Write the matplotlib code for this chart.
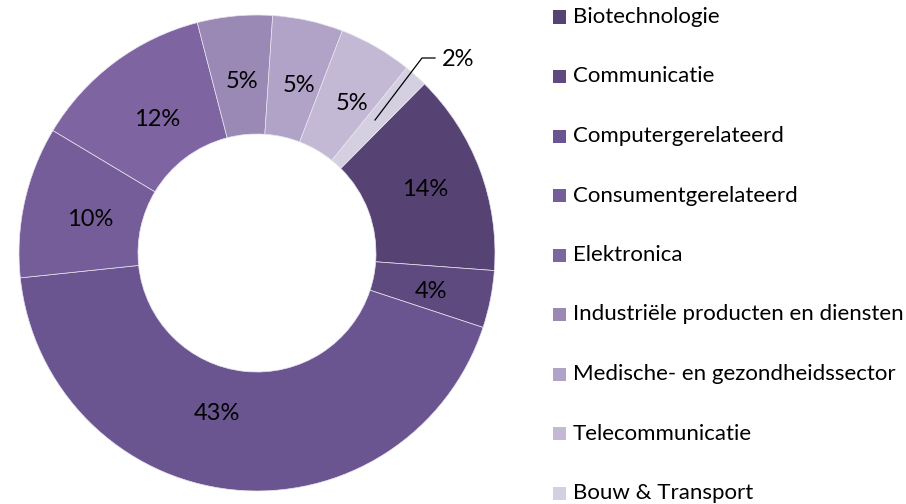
import matplotlib
matplotlib.use("Agg")
import matplotlib.pyplot as plt
from matplotlib.patches import Rectangle

categories = ["Biotechnologie", "Communicatie", "Computergerelateerd",
              "Consumentgerelateerd", "Elektronica",
              "Industriële producten en diensten",
              "Medische- en gezondheidssector", "Telecommunicatie",
              "Bouw & Transport"]
values = [13.8, 3.9, 43.4, 10.3, 12.4, 5.1, 4.8, 5.0, 1.6]
colors = ["#574373", "#5f4a80", "#6b5590", "#755d99", "#7f64a2",
          "#9a88b5", "#b0a3c7", "#c3b9d5", "#d5cfe2"]

plt.rcParams['font.family'] = ['Lato', 'DejaVu Sans']

W, H = 906, 504
CX, CY, R = 257, 253, 238  # pie centre / radius in pixels (from top-left)
fig = plt.figure(figsize=(W/100, H/100), dpi=100)
ax = fig.add_axes([(CX - R)/W, (H - CY - R)/H, 2*R/W, 2*R/H])

wedges, texts, autotexts = ax.pie(
    values, colors=colors, startangle=45.3, counterclock=False,
    radius=1.0, wedgeprops=dict(width=0.5, edgecolor='#e8e4f0', linewidth=0.5),
    autopct=lambda p: f"{round(p):.0f}%", pctdistance=0.75,
    textprops=dict(fontsize=17, color='#000000'))
ax.set_xlim(-1, 1)
ax.set_ylim(-1, 1)
ax.set_aspect('equal')
ax.axis('off')

# data-label placement (pixel positions, as laid out in the reference)
label_px = [(425, 190), (431, 291), (217, 413), (90, 220), (157, 120),
            (242, 81), (299, 86), (352, 104), (458, 59)]
for t, (px, py) in zip(autotexts, label_px):
    t.set_position(((px - CX)/R, (CY - py)/R))

# leader line for the smallest slice
lx = [375, 422, 435]
ly = [120, 58, 58]
ax.plot([(x - CX)/R for x in lx], [(CY - y)/R for y in ly],
        color='black', lw=0.9)

# legend drawn in figure pixel coordinates
y0, dy = 17, 59.5
for i, (cat, col) in enumerate(zip(categories, colors)):
    yc = y0 + i * dy
    fig.patches.append(Rectangle((553/W, (H - yc - 6.5)/H), 13/W, 13/H,
                                 transform=fig.transFigure, facecolor=col,
                                 edgecolor='none'))
    fig.text(573/W, (H - yc)/H, cat, fontsize=16, va='center', ha='left',
             color='#000000')

fig.savefig("out.png", dpi=100)
